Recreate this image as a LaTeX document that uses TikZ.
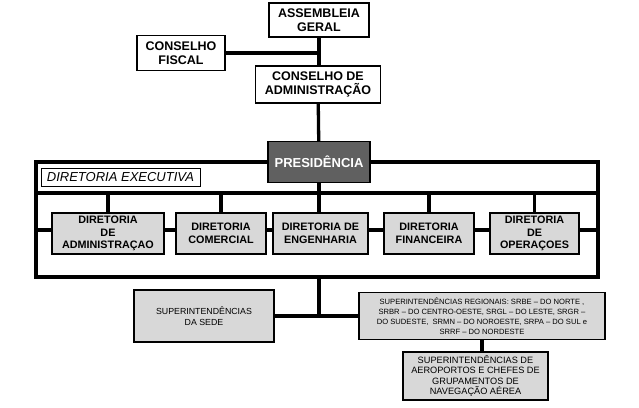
\documentclass[tikz,border=0pt]{standalone}
\usepackage{fontspec}
\setmainfont{Liberation Sans}
\usetikzlibrary{positioning,backgrounds}
\definecolor{dirgray}{RGB}{216,216,216}
\definecolor{presgray}{RGB}{96,96,96}
\begin{document}
\begin{tikzpicture}[
  x=1pt, y=-1pt,
  box/.style={draw, line width=1.1pt, align=center, inner sep=1pt},
  topbox/.style={box, fill=white, font=\bfseries\fontsize{12.5}{14}\selectfont},
  dirbox/.style={box, fill=dirgray, minimum height=41pt, font=\bfseries\fontsize{10.8}{12.8}\selectfont},
  supbox/.style={box, fill=dirgray},
  link/.style={line width=3.3pt}
]
\useasboundingbox (0,0) rectangle (639,407);
% conselhos
\node[topbox, minimum width=100pt, minimum height=34pt] (asm) at (319,20) {ASSEMBLEIA\\GERAL};
\node[topbox, minimum width=88pt, minimum height=35pt] (fis) at (181,53) {CONSELHO\\FISCAL};
\node[topbox, minimum width=125pt, minimum height=37pt] (cad) at (318,84.5) {CONSELHO DE\\ADMINISTRAÇÃO};
\node[box, fill=presgray, text=white, minimum width=102pt, minimum height=41pt,
  font=\bfseries\fontsize{13}{15}\selectfont] (pres) at (319,162) {PRESIDÊNCIA};
% diretoria executiva
\coordinate (exNW) at (36,162);
\coordinate (exSE) at (598,277);
\coordinate (sepL) at (36,193);
\coordinate (sepR) at (598,193);
\coordinate (midL) at (36,230);
\coordinate (midR) at (598,230);
\node[box, line width=0.9pt, fill=white, minimum width=159pt, minimum height=18pt,
  font=\itshape\fontsize{13}{15}\selectfont] (dex) at (120.5,177) {DIRETORIA EXECUTIVA};
\node[dirbox, minimum width=112pt] (d1) at (108,233.5) {DIRETORIA\\DE\\ADMINISTRAÇAO};
\node[dirbox, minimum width=90pt] (d2) at (221,233.5) {DIRETORIA\\COMERCIAL};
\node[dirbox, minimum width=95pt] (d3) at (320.5,233.5) {DIRETORIA DE\\ENGENHARIA};
\node[dirbox, minimum width=90pt] (d4) at (429,233.5) {DIRETORIA\\FINANCEIRA};
\node[dirbox, minimum width=89pt] (d5) at (534.5,233.5) {DIRETORIA\\DE\\OPERAÇOES};
% superintendencias
\node[supbox, minimum width=140pt, minimum height=52pt, font=\fontsize{8.8}{11.5}\selectfont] (sede) at (204,316) {SUPERINTENDÊNCIAS\\DA SEDE};
\node[supbox, minimum width=246pt, minimum height=47pt, font=\fontsize{7.6}{10}\selectfont] (reg) at (482,316)
  {SUPERINTENDÊNCIAS REGIONAIS: SRBE – DO NORTE ,\\SRBR – DO CENTRO-OESTE, SRGL – DO LESTE, SRGR –\\DO SUDESTE, \ SRMN – DO NOROESTE, SRPA – DO SUL e\\SRRF – DO NORDESTE};
\node[supbox, minimum width=145pt, minimum height=48pt, font=\fontsize{9.2}{10.4}\selectfont] (aer) at (475.5,376)
  {SUPERINTENDÊNCIAS DE\\AEROPORTOS E CHEFES DE\\GRUPAMENTOS DE\\NAVEGAÇÃO AÉREA};
\begin{scope}[on background layer]
\draw[link] (asm) -- (asm |- cad.north);
\draw[link] (fis.east) -- (fis.east -| asm);
\draw[link] (cad) -- (pres);
\draw[link] (exNW) rectangle (exSE);
\draw[link] (sepL) -- (sepR);
\draw[link] (midL) -- (midR);
\draw[link] (pres.south) -- (pres.south |- d3.north);
\foreach \d in {d1,d2,d4,d5}
  \draw[link] (\d.north) -- (\d.north |- sepL);
\draw[link] (pres |- exSE) -- (pres |- sede.east);
\draw[link] (sede.east) -- (reg.west);
\draw[link] (reg.south) -- (reg.south |- aer.north);
\end{scope}
\end{tikzpicture}
\end{document}
